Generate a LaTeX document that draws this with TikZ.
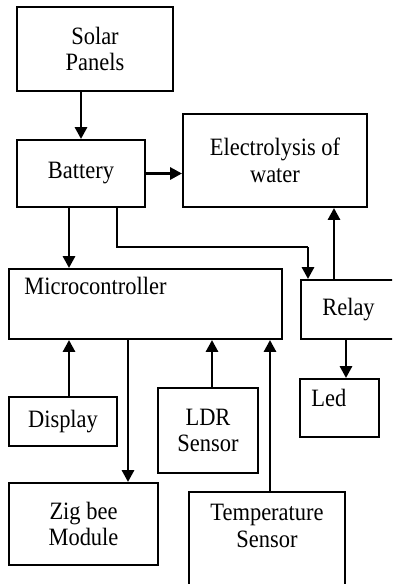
\documentclass[tikz,border=0pt]{standalone}
\usepackage{fontspec}
\setmainfont{Liberation Serif}[FakeStretch=0.9]
\usetikzlibrary{arrows.meta,positioning,calc}
\definecolor{ink}{RGB}{0,0,0}
\tikzset{
  >={Triangle[length=2.4mm,width=2.4mm]},
  box/.style={draw=ink,line width=1.1pt,align=center,inner sep=0pt,
    font=\fontsize{14.2}{15}\selectfont},
  flow/.style={->,line width=1.7pt,draw=ink},
  wire/.style={line width=0.75pt,draw=ink},
  inlabel/.style={inner sep=0pt,align=center,font=\fontsize{14.2}{15}\selectfont},
}
\begin{document}
\begin{tikzpicture}
  \useasboundingbox (0,0) rectangle (7.84,-11.68);
  \clip (0,0) rectangle (7.84,-11.68);
  % blocks
  \node[box,minimum width=3.12cm,minimum height=1.68cm] (sol) at (1.90,-0.98) {Solar\\Panels};
  \node[box,minimum width=2.56cm,minimum height=1.34cm] (bat) at (1.62,-3.47) {Battery};
  \node[box,minimum width=3.68cm,minimum height=1.86cm] (ely) at (5.50,-3.21) {Electrolysis of\\water};
  \node[box,minimum width=5.46cm,minimum height=1.40cm,
    label={[inlabel,anchor=north west,xshift=0.32cm,yshift=-0.18cm]north west:Microcontroller}] (mc) at (2.91,-6.08) {};
  \node[box,minimum width=1.90cm,minimum height=1.18cm] (rel) at (6.97,-6.19) {Relay};
  \node[box,minimum width=1.58cm,minimum height=1.16cm,
    label={[inlabel,anchor=north west,xshift=0.24cm,yshift=-0.22cm]north west:Led}] (led) at (6.79,-8.16) {};
  \node[box,minimum width=2.16cm,minimum height=0.98cm] (dsp) at (1.26,-8.43) {Display};
  \node[box,minimum width=2.00cm,minimum height=1.70cm] (ldr) at (4.16,-8.61) {LDR\\Sensor};
  \node[box,minimum width=2.98cm,minimum height=1.64cm] (zig) at (1.67,-10.48) {Zig bee\\Module};
  \node[box,minimum width=3.12cm,minimum height=2.16cm,
    label={[inlabel,anchor=north,yshift=-0.26cm]north:Temperature\\Sensor}] (tmp) at (5.34,-10.92) {};
  \coordinate (bend) at (6.16,-4.94);
  % connections
  \draw[flow] (bat.north |- sol.south) -- (bat);
  \draw[flow] (bat) -- (bat -| ely.west);
  \draw[flow] ([xshift=-0.24cm]bat.south) -- ([xshift=-0.24cm]bat.south |- mc.north);
  \draw[wire] ([xshift=0.72cm]bat.south) |- (bend);
  \draw[flow] (bend) -- (bend |- rel.north);
  \draw[flow] ([xshift=-0.29cm]rel.north) -- ([xshift=-0.29cm]rel.north |- ely.south);
  \draw[flow] ([xshift=-0.05cm]rel.south) -- ([xshift=-0.05cm]rel.south |- led.north);
  \draw[flow] ([xshift=0.12cm]dsp.north) -- ([xshift=0.12cm]dsp.north |- mc.south);
  \draw[flow] ([xshift=0.89cm]zig.north |- mc.south) -- ([xshift=0.89cm]zig.north);
  \draw[flow] ([xshift=0.08cm]ldr.north) -- ([xshift=0.08cm]ldr.north |- mc.south);
  \draw[flow] ([xshift=0.06cm]tmp.north) -- ([xshift=0.06cm]tmp.north |- mc.south);
\end{tikzpicture}
\end{document}
